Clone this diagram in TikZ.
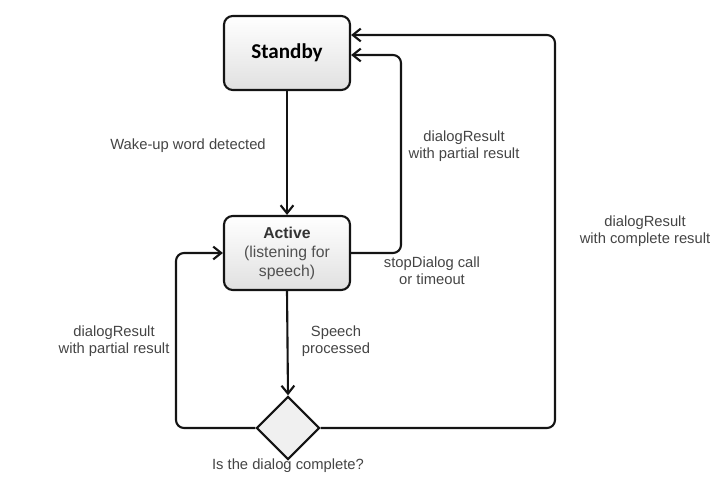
\documentclass[tikz,border=0pt]{standalone}
\usepackage{fontspec}
\setmainfont{Liberation Sans}
\newfontfamily\titlefont{Carlito}
\usetikzlibrary{shapes.geometric, arrows.meta, positioning}
\definecolor{boxline}{RGB}{20,20,20}
\definecolor{labeltext}{RGB}{68,68,68}
\definecolor{boxtext}{RGB}{80,80,80}

\tikzset{
  state/.style={draw=boxline, line width=1.5pt, rounded corners=0.22cm,
    top color=white, bottom color=black!12, minimum width=3.15cm,
    minimum height=1.85cm, align=center, inner sep=2pt},
  decision/.style={diamond, draw=boxline, line width=1.5pt, fill=black!6,
    minimum width=1.58cm, minimum height=1.58cm, inner sep=0pt},
  flow/.style={line width=1.5pt, draw=boxline, rounded corners=0.2cm,
    -{Straight Barb[length=2mm,width=3.2mm]}},
  lbl/.style={text=labeltext, font=\fontsize{10.5}{12}\selectfont, align=center}
}

\begin{document}
\begin{tikzpicture}[x=0.025cm, y=-0.025cm]
    \useasboundingbox (0,0) rectangle (727,503);

    % States
    \node[state] (standby) at (287,53) {\titlefont\fontsize{15}{17}\selectfont\bfseries Standby};
    \node[state, font=\fontsize{11.2}{13.5}\selectfont] (active) at (287,253)
        {\textcolor{black!80}{\textbf{Active}}\\\textcolor{boxtext}{(listening for}\\\textcolor{boxtext}{speech)}};
    \node[decision] (check) at (288,428) {};

    % Corner points
    \coordinate (innerturn) at (401,55);
    \coordinate (outerturn) at (555,35);
    \coordinate (leftturn) at (176,428);

    % Transitions
    \draw[flow] (standby.south) -- (active.north);
    \draw[flow] (active.south) -- (check.north);
    \draw[flow] (active.east) -| (innerturn) -- (standby.east |- innerturn);
    \draw[flow] (check.east) -| (outerturn) -- (standby.east |- outerturn);
    \draw[flow] (check.west) -- (leftturn) |- (active.west);

    % Labels
    \node[lbl] (wake) at (188,146) {Wake-up word detected};
    \node[lbl] (partialup) at (464,146) {dialogResult\\with partial result};
    \node[lbl] (stop) at (432,271) {stopDialog call\\or timeout};
    \node[lbl] (complete) at (645,231) {dialogResult\\with complete result};
    \node[lbl] (partialleft) at (114,341) {dialogResult\\with partial result};
    \node[lbl] (speech) at (336,341) {Speech\\processed};
    \node[lbl] (question) at (288,466) {Is the dialog complete?};
\end{tikzpicture}
\end{document}
